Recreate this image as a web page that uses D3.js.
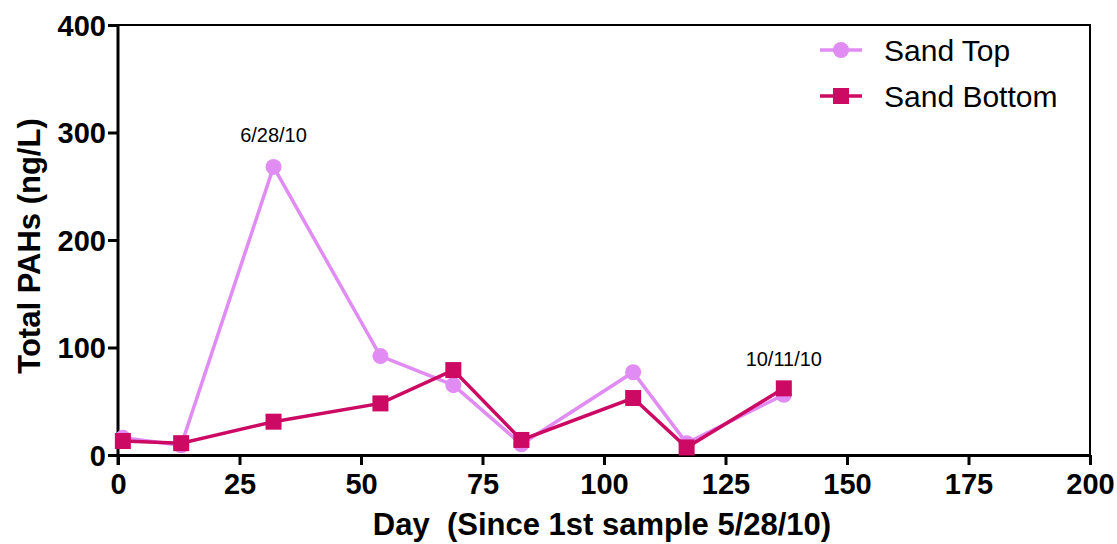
<!DOCTYPE html>
<html>
<head>
<meta charset="utf-8">
<script src="https://cdn.jsdelivr.net/npm/d3@7"></script>
<style>
  body { margin: 0; background: #fff; }
  svg { display: block; font-family: "Liberation Sans", Arial, sans-serif; }
  .axis path, .axis line { stroke: #000; stroke-width: 3px; }
  .axis text { font-weight: bold; font-size: 29px; fill: #000; }
</style>
</head>
<body>
<svg id="chart" width="1117" height="544"></svg>
<script>
// sample days (since 1st sample 5/28/10)
const days = [1, 13, 32, 54, 69, 83, 106, 117, 137];
const sandTop = [16, 9, 268, 92, 65, 10, 77, 11, 56];
const sandBottom = [13, 11, 31, 48, 79, 14, 53, 7, 62];
const xTicks = [0, 25, 50, 75, 100, 125, 150, 175, 200];
const yTicks = [0, 100, 200, 300, 400];
const notes = [{ day: 32, value: 268, text: '6/28/10' }, { day: 137, value: 62, text: '10/11/10' }];

const svg = d3.select('#chart');
const margin = { left: 118, right: 27, top: 25, bottom: 89 };
const width = 1117 - margin.left - margin.right;
const height = 544 - margin.top - margin.bottom;

const chart = svg.append('g')
  .attr('transform', `translate(${margin.left}, ${margin.top})`);

const x = d3.scaleLinear().domain([0, 200]).range([0, width]);
const y = d3.scaleLinear().domain([0, 400]).range([height, 0]);

// frame top + right
chart.append('path')
  .attr('d', `M0,0H${width}V${height}`)
  .attr('fill', 'none')
  .attr('stroke', '#000')
  .attr('stroke-width', 2);

const xAxis = chart.append('g')
  .attr('class', 'axis')
  .attr('transform', `translate(0, ${height})`)
  .call(d3.axisBottom(x).tickValues(xTicks).tickSize(10).tickSizeOuter(0).tickPadding(8));

const yAxis = chart.append('g')
  .attr('class', 'axis')
  .call(d3.axisLeft(y).tickValues(yTicks).tickSize(10).tickSizeOuter(0).tickPadding(2));
yAxis.select('.domain').attr('d', `M0,0V${height + 10}`);
yAxis.selectAll('.tick text').attr('dy', '0.36em');

// axis titles
svg.append('text')
  .attr('x', margin.left + x(100) - 2)
  .attr('y', 535)
  .attr('text-anchor', 'middle')
  .style('font-weight', 'bold')
  .style('font-size', '31px')
  .text('Day  (Since 1st sample 5/28/10)')
  .attr('xml:space', 'preserve');

svg.append('text')
  .attr('transform', `translate(40, ${margin.top + y(200) + 6}) rotate(-90)`)
  .attr('text-anchor', 'middle')
  .style('font-weight', 'bold')
  .style('font-size', '31px')
  .text('Total PAHs (ng/L)');

const series = [
  { name: 'Sand Top', values: sandTop, color: '#e08cf3', shape: 'circle' },
  { name: 'Sand Bottom', values: sandBottom, color: '#cc0a63', shape: 'square' }
];

const line = d3.line()
  .x((d, i) => x(days[i]))
  .y(d => y(d));

series.forEach(s => {
  const g = chart.append('g');
  g.append('path')
    .attr('d', line(s.values))
    .attr('fill', 'none')
    .attr('stroke', s.color)
    .attr('stroke-width', 3.5);
  if (s.shape === 'circle') {
    g.selectAll('circle').data(s.values).enter().append('circle')
      .attr('cx', (d, i) => x(days[i]))
      .attr('cy', d => y(d))
      .attr('r', 8)
      .attr('fill', s.color);
  } else {
    g.selectAll('rect').data(s.values).enter().append('rect')
      .attr('x', (d, i) => x(days[i]) - 8)
      .attr('y', d => y(d) - 8)
      .attr('width', 16)
      .attr('height', 16)
      .attr('fill', s.color);
  }
});

// date notes
chart.selectAll('.note').data(notes).enter().append('text')
  .attr('class', 'note')
  .attr('x', d => x(d.day))
  .attr('y', (d, i) => i === 0 ? y(d.value) - 25 : y(d.value) - 22)
  .attr('text-anchor', 'middle')
  .style('font-size', '20px')
  .text(d => d.text);

// legend
const legend = svg.append('g').attr('transform', 'translate(820, 50)');
series.forEach((s, i) => {
  const row = legend.append('g').attr('transform', `translate(0, ${i * 46})`);
  row.append('line')
    .attr('x1', 0).attr('x2', 42)
    .attr('stroke', s.color).attr('stroke-width', 3.5);
  if (s.shape === 'circle') {
    row.append('circle').attr('cx', 21).attr('r', 8).attr('fill', s.color);
  } else {
    row.append('rect').attr('x', 13).attr('y', -8).attr('width', 16).attr('height', 16).attr('fill', s.color);
  }
  row.append('text')
    .attr('x', 64)
    .attr('dy', '0.36em')
    .style('font-size', '30px')
    .text(s.name);
});
</script>
</body>
</html>
